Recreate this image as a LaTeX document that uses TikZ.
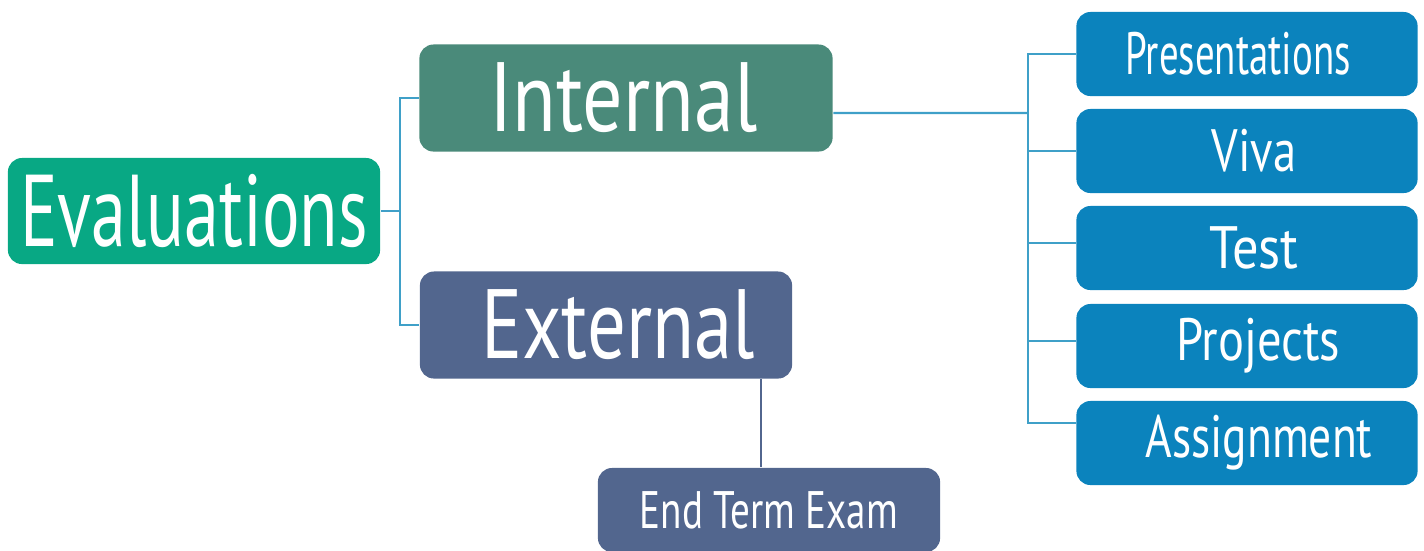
\documentclass[tikz,border=0pt]{standalone}
\usepackage{fontspec}
\setmainfont[FakeStretch=0.65]{PT Sans}
\usepackage{graphicx}
\usepackage{tikz}

\definecolor{evalgreen}{HTML}{08A884}
\definecolor{intgreen}{HTML}{4A8A7A}
\definecolor{extblue}{HTML}{52668E}
\definecolor{itemblue}{HTML}{0B83BD}
\definecolor{linkblue}{HTML}{3FA0C8}

% #1 = twice the text shift, #2 = horizontal scale, #3 = text
\newcommand{\boxtext}[3]{\hspace*{#1}\scalebox{#2}[1]{#3}}

\begin{document}
\begin{tikzpicture}[
  x=0.01cm, y=-0.01cm,
  every node/.style={rounded corners=4pt, text=white, inner sep=0pt, align=center},
  root/.style={fill=evalgreen, minimum width=3.72cm, minimum height=1.06cm, font=\fontsize{29}{32}\selectfont},
  branch/.style={minimum height=1.07cm, font=\fontsize{28}{32}\selectfont},
  item/.style={fill=itemblue, minimum width=3.41cm, minimum height=0.84cm, font=\fontsize{17}{20}\selectfont},
  link/.style={draw=linkblue, line width=0.6pt}
]
\useasboundingbox (0,0) rectangle (1424,550);

\node[root] (eval) at (194,211) {\boxtext{0cm}{1.06}{Evaluations}};
\node[branch, fill=intgreen, minimum width=4.13cm] (int) at (626,98) {\boxtext{-0.05cm}{1.25}{Internal}};
\node[branch, fill=extblue, minimum width=3.72cm] (ext) at (606,325) {\boxtext{0.24cm}{1.2}{External}};
\node[item, fill=extblue, minimum width=3.42cm, font=\fontsize{15}{18}\selectfont] (end) at (769,510) {\boxtext{0cm}{1.14}{End Term Exam}};

\node[item] (pres) at (1247,54) {\boxtext{-0.18cm}{1.0}{Presentations}};
\node[item] (viva) at (1247,151) {\boxtext{0.14cm}{1.2}{Viva}};
\node[item] (test) at (1247,248) {\boxtext{0.14cm}{1.35}{Test}};
\node[item] (proj) at (1247,346) {\boxtext{0.22cm}{1.25}{Projects}};
\node[item] (asg) at (1247,443) {\boxtext{0.24cm}{1.17}{Assignment}};

% root to branches
\coordinate (fork) at (400,211);
\draw[link] (eval.east) -- (fork);
\draw[link] (fork) |- (int.west);
\draw[link] (fork) |- (ext.west);

% internal items
\coordinate (bus) at (1028,113);
\draw[link] ([yshift=-0.15cm]int.east) -- (bus);
\draw[link] (bus) |- (pres.west);
\draw[link] (bus) |- (viva.west);
\draw[link] (bus) |- ([yshift=0.05cm]test.west);
\draw[link] (bus) |- ([yshift=0.05cm]proj.west);
\draw[link] (bus) |- ([yshift=0.2cm]asg.west);

% external item
\draw[draw=extblue, line width=0.6pt] ([xshift=-0.08cm]ext.south -| end.north) -- ([xshift=-0.08cm]end.north);
\end{tikzpicture}
\end{document}
